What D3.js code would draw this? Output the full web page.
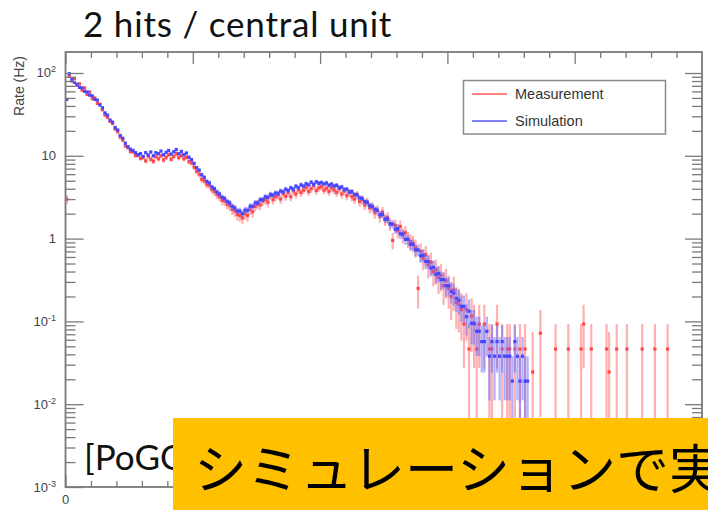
<!DOCTYPE html>
<html><head><meta charset="utf-8">
<script src="https://cdn.jsdelivr.net/npm/d3@7"></script>
<style>body{margin:0;background:#fff;} svg{display:block}</style>
</head><body>
<svg id="c" width="708" height="510"></svg>
<script>
// ---------------- data ----------------
const titleText = "2 hits / central unit";
const yLabel = "Rate (Hz)";
const seriesNames = ["Measurement", "Simulation"];
const sourceText = "[PoGO";
const bannerText = "シミュレーションで実";
const xMajorTicks = [0, 50, 100, 150, 200];
const xMinorTicks = [10,20,30,40,60,70,80,90,110,120,130,140,160,170,180,190,210,220,230,240];
const xTickLabels = ["0"];
const yDecades = [1e-3, 1e-2, 1e-1, 1, 10, 100];
const yTickBase = ["10", "10", "10", "1", "10", "10"];
const yTickExp = ["-3", "-2", "-1", "", "", "2"];
const binWidth = 1;
const measUnit = 0.0464;   // rate of a single count (measurement)
const simUnit = 0.019;     // rate of a single count (simulation)

const measRate = [3.0, 92, 80, 86, 71, 74, 62, 66, 55, 59,
 49, 50, 43, 42, 36, 31, 29, 26, 24.5, 21,
 19.5, 16.8, 15.5, 13.2, 12.6, 11.3, 11.2, 10.1, 10.2, 9.3,
 9.6, 8.7, 9.9, 9.1, 8.6, 9.8, 9.2, 10.0, 8.9, 9.6,
 10.3, 9.1, 9.8, 10.6, 9.5, 10.1, 9.2, 9.6, 8.5, 8.2,
 7.3, 6.5, 6.0, 5.2, 5.0, 4.5, 4.4, 3.9, 3.7, 3.4,
 3.2, 2.9, 2.85, 2.6, 2.5, 2.25, 2.15, 1.95, 1.9, 1.78,
 2.0, 1.9, 2.25, 2.1, 2.45, 2.6, 2.55, 2.85, 2.95, 2.75,
 3.3, 2.95, 3.2, 3.35, 3.0, 3.5, 3.25, 3.6, 3.2, 3.75,
 3.45, 3.9, 3.6, 3.85, 4.15, 3.7, 4.0, 4.35, 3.8, 4.1,
 4.25, 3.85, 4.05, 3.7, 4.1, 3.85, 3.6, 4.0, 3.45, 3.75,
 3.3, 3.6, 3.2, 3.0, 3.35, 2.8, 2.95, 2.55, 2.75, 2.35,
 2.4, 2.05, 2.2, 1.85, 2.1, 1.7, 1.8, 1.5, 0.95, 1.45,
 1.25, 1.4, 1.1, 1.18, 0.98, 0.92, 0.88, 0.78, 0.25, 0.7,
 0.58, 0.64, 0.48, 0.52, 0.4, 0.42, 0.34, 0.36, 0.27, 0.31,
 0.25, 0.2, 0.24, 0.17, 0.16, 0.139, 0.093, 0.139, 0.0464, 0.116,
 0.093, 0.0464, 0.093];

const measTailBin  = [164, 166, 167, 169, 171, 173, 174, 176, 178, 180, 183, 186, 192, 197, 202, 203, 206, 212, 213, 216, 220, 226, 231, 236];
const measTailRate = [0.093, 0.0464, 0.0464, 0.093, 0.0464, 0.0464, 0.0464, 0.0464, 0.0464, 0.0464, 0.0245, 0.072, 0.0464, 0.0464, 0.0464, 0.093, 0.0464, 0.0464, 0.0245, 0.0464, 0.0464, 0.0464, 0.0464, 0.0464];
const measTailErr  = [0.066, 0.0464, 0.0464, 0.066, 0.0464, 0.0464, 0.0464, 0.0464, 0.0464, 0.0464, 0.05, 0.065, 0.0464, 0.0464, 0.0464, 0.066, 0.0464, 0.0464, 0.05, 0.0464, 0.0464, 0.0464, 0.0464, 0.0464];

const simRate = [48, 98, 84, 77, 73, 67, 66, 60, 59, 54,
 53, 48, 47, 41, 38, 33, 31, 27, 25.5, 22,
 20.5, 17.6, 16.3, 14.2, 12.9, 12.0, 11.6, 10.9, 10.3, 10.6,
 9.8, 10.9, 10.2, 11.1, 10.0, 10.9, 10.6, 11.4, 10.3, 11.0,
 11.6, 10.5, 11.2, 11.9, 10.6, 11.3, 10.3, 10.8, 9.6, 9.0,
 8.1, 7.2, 6.7, 5.9, 5.5, 4.9, 4.7, 4.2, 4.0, 3.65,
 3.45, 3.15, 3.05, 2.8, 2.7, 2.45, 2.35, 2.15, 2.15, 2.0,
 2.2, 2.2, 2.45, 2.45, 2.7, 2.7, 2.95, 2.95, 3.2, 3.15,
 3.4, 3.35, 3.55, 3.5, 3.75, 3.65, 3.95, 3.8, 4.1, 3.95,
 4.3, 4.1, 4.45, 4.3, 4.6, 4.45, 4.8, 4.5, 4.85, 4.65,
 4.75, 4.55, 4.7, 4.4, 4.55, 4.3, 4.4, 4.1, 4.2, 3.9,
 3.95, 3.65, 3.7, 3.4, 3.4, 3.1, 3.05, 2.8, 2.75, 2.5,
 2.45, 2.25, 2.2, 1.95, 1.95, 1.72, 1.72, 1.5, 1.5, 1.3,
 1.32, 1.14, 1.14, 0.98, 0.98, 0.85, 0.85, 0.73, 0.73, 0.62,
 0.63, 0.53, 0.53, 0.44, 0.45, 0.37, 0.38, 0.32, 0.32, 0.27,
 0.27, 0.23, 0.22, 0.19, 0.18, 0.152, 0.152, 0.114, 0.133, 0.095,
 0.095, 0.076, 0.076, 0.057, 0.057, 0.076, 0.038, 0.057, 0.038, 0.057,
 0.038, 0.057, 0.038, 0.038, 0.038, 0.019, 0.057, 0.038, 0.019, 0.038,
 0.019, 0.019];

// ---------------- layout ----------------
const W = 708, H = 510;
const L = 65.5, R = 702, T = 52, B = 487;
const svg = d3.select("#c");
const x = d3.scaleLinear().domain([0, 250]).range([L, R]);
const y = d3.scaleLog().domain([1e-3, 179.3]).range([B, T]);

const defs = svg.append("defs");
defs.append("clipPath").attr("id", "clip").append("rect")
  .attr("x", L).attr("y", T).attr("width", R - L).attr("height", B - T);
defs.append("filter").attr("id", "soft").append("feGaussianBlur").attr("stdDeviation", 0.6);

// title
svg.append("text").attr("x", 83).attr("y", 37)
  .attr("font-family", "Lato, 'Open Sans', sans-serif").attr("font-size", 35)
  .attr("letter-spacing", 0.8)
  .attr("fill", "#111").text(titleText);

// ---------------- data ----------------
const meas = measRate.map((v, i) => ({x: (i + 0.5) * binWidth, v, e: Math.sqrt(v * measUnit)}))
  .concat(measTailBin.map((b, k) => ({x: (b + 0.5) * binWidth, v: measTailRate[k], e: measTailErr[k]})));
const sim = simRate.map((v, i) => ({x: (i + 0.5) * binWidth, v, e: Math.sqrt(v * simUnit)}));

const plot = svg.append("g").attr("clip-path", "url(#clip)");
const dataG = plot.append("g").attr("filter", "url(#soft)");
function drawSeries(data, barColor, markColor) {
  const gg = dataG.append("g");
  gg.selectAll("line").data(data).join("line")
    .attr("x1", d => x(d.x)).attr("x2", d => x(d.x))
    .attr("y1", d => y(d.v + d.e))
    .attr("y2", d => y(Math.max(d.v - d.e, 1e-5)))
    .attr("stroke", barColor).attr("stroke-width", 2.2);
  gg.selectAll("rect").data(data).join("rect")
    .attr("x", d => x(d.x) - 1.6).attr("y", d => y(d.v) - 1.6)
    .attr("width", 3.2).attr("height", 3.2).attr("fill", markColor);
}
drawSeries(meas, "rgba(255,110,110,0.55)", "#ff4a4a");
drawSeries(sim, "rgba(110,110,255,0.55)", "#4646ff");

// ---------------- axes ----------------
const axisColor = "#7a7a7a";
const axG = svg.append("g");
function styleAxis(g) {
  g.select(".domain").remove();
  g.selectAll("line").attr("stroke", axisColor).attr("stroke-width", 1.3);
  g.selectAll("text").remove();
}
const yMinor = [];
yDecades.forEach(d => { for (let k = 2; k <= 9; k++) { const v = d * k; if (v <= 179.3) yMinor.push(v); } });

axG.append("g").attr("transform", `translate(${L},0)`)
  .call(d3.axisRight(y).tickValues(yDecades).tickSize(18).tickSizeOuter(0)).call(styleAxis);
axG.append("g").attr("transform", `translate(${L},0)`)
  .call(d3.axisRight(y).tickValues(yMinor).tickSize(10).tickSizeOuter(0)).call(styleAxis);
axG.append("g").attr("transform", `translate(${R},0)`)
  .call(d3.axisLeft(y).tickValues(yDecades).tickSize(17).tickSizeOuter(0)).call(styleAxis);
axG.append("g").attr("transform", `translate(${R},0)`)
  .call(d3.axisLeft(y).tickValues(yMinor).tickSize(10).tickSizeOuter(0)).call(styleAxis);
axG.append("g").attr("transform", `translate(0,${B})`)
  .call(d3.axisTop(x).tickValues(xMajorTicks).tickSize(12).tickSizeOuter(0)).call(styleAxis);
axG.append("g").attr("transform", `translate(0,${B})`)
  .call(d3.axisTop(x).tickValues(xMinorTicks).tickSize(6).tickSizeOuter(0)).call(styleAxis);
axG.append("g").attr("transform", `translate(0,${T})`)
  .call(d3.axisBottom(x).tickValues(xMajorTicks).tickSize(12).tickSizeOuter(0)).call(styleAxis);
axG.append("g").attr("transform", `translate(0,${T})`)
  .call(d3.axisBottom(x).tickValues(xMinorTicks).tickSize(6).tickSizeOuter(0)).call(styleAxis);

axG.append("rect").attr("x", L).attr("y", T).attr("width", R - L).attr("height", B - T)
  .attr("fill", "none").attr("stroke", axisColor).attr("stroke-width", 1.8);

const lblFont = "'Liberation Sans', Arial, sans-serif";
yDecades.forEach((d, k) => {
  const t = axG.append("text").attr("x", 56).attr("y", y(d) + 4.5)
    .attr("text-anchor", "end").attr("font-family", lblFont).attr("font-size", 13).attr("fill", "#444");
  t.append("tspan").text(yTickBase[k]);
  if (yTickExp[k]) t.append("tspan").attr("dy", -5).attr("font-size", 9).text(yTickExp[k]);
});
xTickLabels.forEach((s, k) => {
  axG.append("text").attr("x", x(xMajorTicks[k])).attr("y", 504).attr("text-anchor", "middle")
    .attr("font-family", lblFont).attr("font-size", 13).attr("fill", "#444").text(s);
});
axG.append("text").attr("transform", "translate(23.5,56) rotate(-90)")
  .attr("text-anchor", "end").attr("font-family", lblFont).attr("font-size", 14)
  .attr("fill", "#444").text(yLabel);

// ---------------- legend ----------------
const leg = svg.append("g");
leg.append("rect").attr("x", 463.5).attr("y", 80.5).attr("width", 202).attr("height", 53.5)
  .attr("fill", "#fff").attr("stroke", "#8a8a8a").attr("stroke-width", 1.5);
const legColors = ["#ff8080", "#8080ff"];
const legY = [94, 121];
seriesNames.forEach((n, k) => {
  leg.append("line").attr("x1", 472).attr("x2", 507).attr("y1", legY[k]).attr("y2", legY[k])
    .attr("stroke", legColors[k]).attr("stroke-width", 2);
  leg.append("text").attr("x", 515).attr("y", legY[k] + 5).attr("font-family", lblFont)
    .attr("font-size", 14.5).attr("fill", "#333").text(n);
});

// ---------------- annotations ----------------
svg.append("text").attr("x", 84).attr("y", 470)
  .attr("font-family", "Lato, 'Open Sans', sans-serif").attr("font-size", 35)
  .attr("fill", "#111").text(sourceText);
svg.append("rect").attr("x", 173).attr("y", 418).attr("width", W - 173).attr("height", H - 418)
  .attr("fill", "#FFC000");
svg.append("text").attr("x", 194).attr("y", 489)
  .attr("font-family", "'Noto Sans CJK JP', sans-serif").attr("font-size", 53)
  .attr("fill", "#000").text(bannerText);
</script>
</body></html>
